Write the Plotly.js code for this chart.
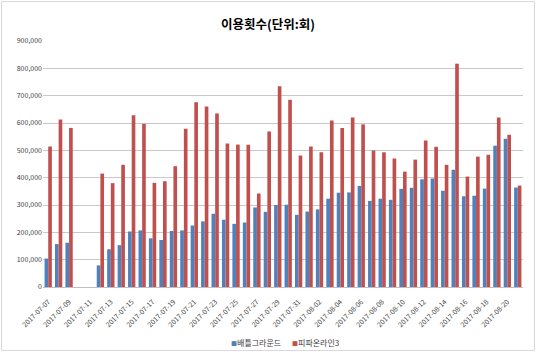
<!DOCTYPE html>
<html>
<head>
<meta charset="utf-8">
<script src="https://cdn.plot.ly/plotly-3.0.1.min.js"></script>
<style>
html,body{margin:0;padding:0;background:#fff;}
#wrap{position:absolute;left:1px;top:1px;width:532px;height:348px;border:1px solid #D9D9D9;}
#chart{width:532px;height:348px;}
</style>
</head>
<body>
<div id="wrap"><div id="chart"></div></div>
<script>
const dates = [
 "2017-07-07","2017-07-08","2017-07-09","2017-07-10","2017-07-11","2017-07-12","2017-07-13","2017-07-14",
 "2017-07-15","2017-07-16","2017-07-17","2017-07-18","2017-07-19","2017-07-20","2017-07-21","2017-07-22",
 "2017-07-23","2017-07-24","2017-07-25","2017-07-26","2017-07-27","2017-07-28","2017-07-29","2017-07-30",
 "2017-07-31","2017-08-01","2017-08-02","2017-08-03","2017-08-04","2017-08-05","2017-08-06","2017-08-07",
 "2017-08-08","2017-08-09","2017-08-10","2017-08-11","2017-08-12","2017-08-13","2017-08-14","2017-08-15",
 "2017-08-16","2017-08-17","2017-08-18","2017-08-19","2017-08-20","2017-08-21"
];
const battlegrounds = [
 104000,157000,162000,null,null,79000,138000,153000,
 203000,207000,178000,172000,205000,207000,225000,240000,
 268000,246000,231000,236000,291000,275000,300000,301000,
 264000,276000,284000,323000,345000,346000,370000,315000,
 323000,319000,359000,363000,394000,397000,352000,429000,
 332000,334000,360000,517000,542000,364000
];
const fifaOnline3 = [
 514000,613000,582000,null,null,415000,380000,447000,
 628000,597000,381000,387000,442000,579000,676000,660000,
 635000,525000,521000,520000,342000,569000,734000,685000,
 481000,514000,493000,609000,582000,620000,595000,499000,
 493000,470000,422000,466000,536000,513000,447000,817000,
 404000,477000,484000,620000,557000,371000
];
const seriesNames = ["배틀그라운드","피파온라인3"];
const seriesColors = ['#4F81BD','#C0504D'];
const tickDates = dates.filter((d,i)=>i%2===0);

const font = "'Noto Sans CJK KR', 'Noto Sans', sans-serif";
const traces = [
 {type:'bar', name:seriesNames[0], x:dates, y:battlegrounds, marker:{color:seriesColors[0]}},
 {type:'bar', name:seriesNames[1], x:dates, y:fifaOnline3, marker:{color:seriesColors[1]}}
];
const legendAnn = seriesNames.map((n,i)=>({
  xref:'paper', yref:'paper', x: i===0 ? 0.5 : 0.515, xanchor: i===0 ? 'right' : 'left',
  y:-0.225, yanchor:'middle', showarrow:false,
  text:`<span style="color:${seriesColors[i]};font-size:6px">■</span>${n}`,
  font:{size:8, color:'#404040', family:font}
}));
const layout = {
 width:532, height:348,
 margin:{l:41, r:11, t:39, b:63},
 paper_bgcolor:'#fff', plot_bgcolor:'#fff',
 font:{family:font, color:'#404040'},
 title:{text:'<b>이용횟수(단위:회)</b>', font:{size:12.5, color:'#000', family:font}, x:0.5, xanchor:'center', y:0.935, yanchor:'middle'},
 barmode:'group', bargap:0.3, bargroupgap:0,
 showlegend:false,
 annotations:legendAnn,
 xaxis:{type:'category', categoryorder:'array', categoryarray:dates, tickvals:tickDates, ticktext:tickDates,
   tickangle:-45, tickfont:{size:7, color:'#404040'}, ticklabelstandoff:7, showgrid:false, showline:true, linecolor:'#BFBFBF', ticks:'', automargin:false},
 yaxis:{range:[0,900000], dtick:100000, tickformat:',d', tickfont:{size:7, color:'#404040'},
   showgrid:true, gridcolor:'#C8C8C8', gridwidth:1, zeroline:false, showline:false, ticks:'', automargin:false}
};
Plotly.newPlot('chart', traces, layout, {displayModeBar:false, staticPlot:true});
</script>
</body>
</html>
